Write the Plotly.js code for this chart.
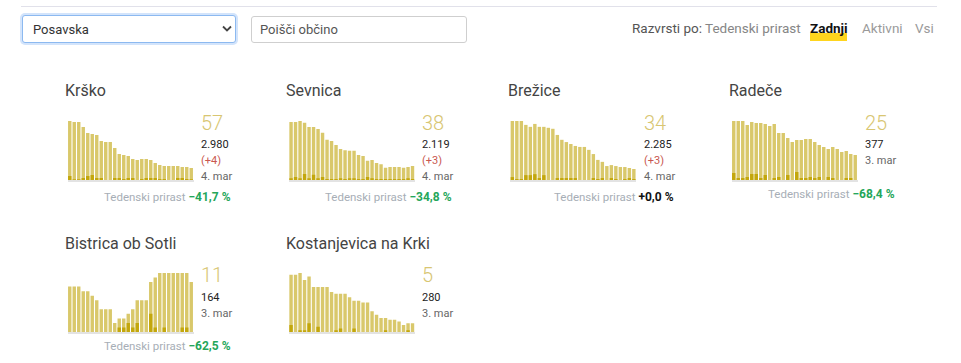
<!DOCTYPE html>
<html><head><meta charset="utf-8">
<script src="https://cdn.plot.ly/plotly-3.0.1.min.js"></script>
<style>
body{margin:0;background:#fff;font-family:Roboto,"Noto Sans",sans-serif;}
#wrap{position:relative;width:961px;height:363px;overflow:hidden;}
#chart{position:absolute;left:0;top:0;width:961px;height:363px;}
.topline{position:absolute;left:21px;top:6px;width:916px;height:1px;background:#e1e1ea;z-index:2;}
select.sel{position:absolute;left:22px;top:15px;width:214px;height:28px;border:1px solid #8cb9f0;box-shadow:0 0 0 2px #d3e4fb;border-radius:3px;box-sizing:border-box;font-family:Roboto,sans-serif;font-size:13px;color:#333;padding:0 0 0 10px;background:#fff;-webkit-appearance:none;appearance:none;outline:none;z-index:2;}
.chev{position:absolute;left:222px;top:25px;z-index:3;}
input.srch{position:absolute;left:251px;top:16px;width:216px;height:27px;border:1px solid #cfcfcf;border-radius:3px;box-sizing:border-box;font-family:Roboto,sans-serif;font-size:13px;padding:0 0 0 8px;outline:none;z-index:2;}
input.srch::placeholder{color:#555;}
.sort{position:absolute;top:20px;line-height:16px;font-size:13.5px;white-space:nowrap;z-index:3;}
.hl{position:absolute;left:810px;top:33px;width:37px;height:8px;background:#ffd51e;z-index:2;}
</style></head>
<body>
<div id="wrap">
<div id="chart"></div>
<div class="topline"></div>
<select class="sel"><option>Posavska</option></select>
<svg class="chev" width="10" height="8" viewBox="0 0 10 8"><path d="M1 1.5 L5 5.5 L9 1.5" stroke="#444" stroke-width="1.8" fill="none"/></svg>
<input class="srch" type="text" placeholder="Poišči občino">
<span class="sort" style="left:632px;color:#555;">Razvrsti po:</span>
<span class="sort" style="left:705px;color:#868686;">Tedenski prirast</span>
<div class="hl"></div>
<span class="sort" style="left:810px;color:#111;font-weight:bold;">Zadnji</span>
<span class="sort" style="left:862px;color:#9a9a9a;">Aktivni</span>
<span class="sort" style="left:915px;color:#9a9a9a;">Vsi</span>
</div>
<script>
// ---- data ----
const names = ["Krško", "Sevnica", "Brežice", "Radeče", "Bistrica ob Sotli", "Kostanjevica na Krki"];
const activeNow = ["57", "38", "34", "25", "11", "5"];
const totals = ["2.980", "2.119", "2.285", "377", "164", "280"];
const lastDayPlus = ["(+4)", "(+3)", "(+3)", null, null, null];
const dates = ["4. mar", "4. mar", "4. mar", "3. mar", "3. mar", "3. mar"];
const weekly = ["−41,7 %", "−34,8 %", "+0,0 %", "−68,4 %", "−62,5 %", null];

const krskoActive = [280,275,275,252,223,218,214,185,180,180,152,123,119,114,100,95,100,100,95,81,71,66,66,66,66,62,62,57];
const krskoNew    = [19,4,4,9,19,24,9,9,0,0,9,9,5,9,9,0,5,9,9,9,5,5,0,0,9,9,5,4];
const sevnicaActive = [157,157,160,155,144,144,138,128,109,106,95,84,81,79,79,68,65,52,54,46,43,33,35,35,35,33,35,38];
const sevnicaNew    = [5,8,5,16,5,14,5,8,3,3,3,5,3,5,5,3,3,8,5,3,3,3,3,3,3,3,5,3];
const breziceActive = [182,182,182,170,164,173,164,164,161,158,139,124,117,111,105,102,102,93,80,62,56,43,46,43,40,40,37,34];
const breziceNew    = [9,3,3,15,15,18,6,15,0,0,6,6,6,6,6,0,0,0,6,3,6,0,6,3,0,3,6,3];
const radeceActive = [59,59,59,55,58,57,57,56,54,56,47,47,42,38,40,40,41,41,38,35,33,31,33,31,28,29,26,25];
const radeceNew    = [7,2,2,3,6,6,2,5,0,2,3,0,5,0,8,2,2,3,2,3,0,3,2,0,0,2,2,0];
const bistricaActive = [10,10,10,9,9,8,7,5,5,5,2,3,3,4,5,7,7,7,11,12,13,13,13,13,13,13,13,11];
const bistricaNew    = [0,0,0,0,0,0,0,0,0,0,0,1,1,2,1,2,0,0,4,1,0,1,0,0,0,1,1,0];
const kostanjevicaActive = [33,33,34,30,32,26,26,26,26,23,22,22,22,20,18,18,17,17,12,10,8,8,7,7,6,4,5,5];
const kostanjevicaNew    = [4,0,1,1,5,0,3,0,0,0,1,2,0,0,2,0,0,0,0,0,0,1,0,0,0,0,1,0];

const activeSeries = [krskoActive, sevnicaActive, breziceActive, radeceActive, bistricaActive, kostanjevicaActive];
const newSeries = [krskoNew, sevnicaNew, breziceNew, radeceNew, bistricaNew, kostanjevicaNew];

// ---- layout ----
const W = 961, H = 363;
const px = p => p / W;
const py = p => 1 - p / H;
const colX = [65, 286.3, 507.6, 729];
const rowOff = [0, 152];
const panelPos = [[0,0],[1,0],[2,0],[3,0],[0,1],[1,1]];

const LIGHT = "#d9c86b", DARK = "#c3a70c";
const traces = [];
const annotations = [];
const layout = {
  width: W, height: H,
  margin: {l:0, r:0, t:0, b:0},
  paper_bgcolor: "#fff", plot_bgcolor: "rgba(0,0,0,0)",
  showlegend: false, barmode: "overlay", bargap: 0.24,
  font: {family: "Roboto, 'Noto Sans', sans-serif"},
  annotations: annotations
};

names.forEach((name, i) => {
  const [c, r] = panelPos[i];
  const tx = colX[c], ro = rowOff[r];
  const n = i + 1;
  const xa = n === 1 ? "xaxis" : "xaxis" + n;
  const ya = n === 1 ? "yaxis" : "yaxis" + n;
  const xr = n === 1 ? "x" : "x" + n;
  const yr = n === 1 ? "y" : "y" + n;
  const act = activeSeries[i], nw = newSeries[i];
  const idx = act.map((_, k) => k);
  layout[xa] = {domain: [px(tx + 2.5), px(tx + 128.5)], range: [-0.5, act.length - 0.5],
    showgrid: false, zeroline: false, showticklabels: false, ticks: "",
    showline: true, linecolor: "#e3e3e3", linewidth: 2, anchor: yr, fixedrange: true};
  layout[ya] = {domain: [py(180 + ro), py(121 + ro)], range: [0, Math.max(...act)],
    showgrid: false, zeroline: false, showticklabels: false, showline: false, anchor: xr, fixedrange: true};
  traces.push({type: "bar", x: idx, y: act, xaxis: xr, yaxis: yr, marker: {color: LIGHT, line: {width: 0}}, hoverinfo: "skip"});
  traces.push({type: "bar", x: idx, y: nw, xaxis: xr, yaxis: yr, marker: {color: DARK, line: {width: 0}}, hoverinfo: "skip"});

  const ann = (text, x, y, size, color, extra) => annotations.push(Object.assign({
    text, x: px(x), y: py(y), xref: "paper", yref: "paper", xanchor: "left", yanchor: "middle",
    showarrow: false, font: {size, color, family: "Roboto, 'Noto Sans', sans-serif"}, borderpad: 0
  }, extra || {}));

  ann(name, tx - 1, 91 + ro, 16, "#444");
  ann(activeNow[i], tx + 135, 123 + ro, 20, "#d8c672", {font: {size: 20, color: "#d8c672", weight: 300, family: "Roboto, sans-serif"}});
  let ly = 145 + ro;
  ann(totals[i], tx + 135, ly, 11, "#222");
  ly += 16;
  if (lastDayPlus[i]) { ann(lastDayPlus[i], tx + 135, ly, 11, "#c9574f"); ly += 16; }
  ann(dates[i], tx + 135, ly, 11, "#666");
  if (weekly[i]) {
    const neg = weekly[i].startsWith("−");
    const vcol = neg ? "#25a65a" : "#111";
    const ty = (lastDayPlus[i] ? 197 : 194) + ro;
    ann('<span style="color:#a7aeb6">Tedenski prirast</span> <b><span style="color:' + vcol + ';font-size:12px">' + weekly[i] + '</span></b>',
        tx + 167, ty, 11.5, "#a7aeb6", {xanchor: "right"});
  }
});

Plotly.newPlot("chart", traces, layout, {staticPlot: true, displayModeBar: false});
</script>
</body></html>
